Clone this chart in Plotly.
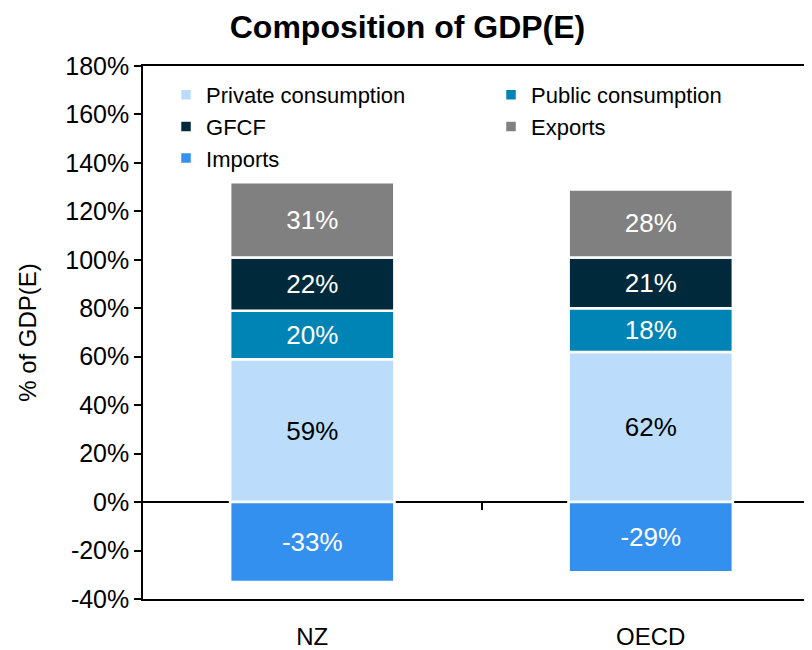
import plotly.graph_objects as go

categories = ["NZ", "OECD"]
series_names = ["Private consumption", "Public consumption", "GFCF", "Exports", "Imports"]
private_consumption = [59, 62]
public_consumption = [20, 18]
gfcf = [22, 21]
exports = [31, 28]
imports = [-33, -29]
series_values = [private_consumption, public_consumption, gfcf, exports, imports]
colors = ["#BBDDFB", "#0084B5", "#002A3C", "#808080", "#3390EE"]
label_colors = ["black", "white", "white", "white", "white"]
y_ticks = list(range(-40, 181, 20))
y_range = [-40, 180]

FONT = "Liberation Sans, Arial, sans-serif"

fig = go.Figure()
for name, vals, col, lc in zip(series_names, series_values, colors, label_colors):
    fig.add_trace(go.Bar(
        x=categories, y=vals, name=name,
        marker=dict(color=col, line=dict(color="white", width=2.5)),
        text=[f"{v}%" for v in vals], texttemplate="%{text}",
        textposition="inside", insidetextanchor="middle",
        textfont=dict(color=lc, size=26, family=FONT),
        cliponaxis=False,
    ))

zero_frac = (0 - y_range[0]) / (y_range[1] - y_range[0])

fig.update_layout(
    barmode="relative",
    bargap=0.515,
    width=812, height=642,
    margin=dict(l=135, r=0, t=58, b=51),
    paper_bgcolor="white", plot_bgcolor="white",
    font=dict(family=FONT, size=24, color="black"),
    title=dict(text="<b>Composition of GDP(E)</b>", x=0.492, xanchor="center",
               y=0.970, yanchor="middle", font=dict(size=32, family=FONT)),
    uniformtext=dict(mode=False),
    showlegend=True,
    legend=dict(orientation="h", x=0.034, y=0.985, xanchor="left", yanchor="top",
                entrywidth=280, entrywidthmode="pixels", traceorder="normal",
                font=dict(size=22, family=FONT), bgcolor="rgba(0,0,0,0)",
                itemwidth=30, tracegroupgap=0),
    xaxis=dict(range=[-0.5, 1.5], showline=True, linecolor="black", linewidth=1.5,
               mirror=True, ticks="", showgrid=False, tickfont=dict(size=24),
               ticklabelstandoff=15, automargin=False),
    xaxis2=dict(matches="x", overlaying="x", anchor="free", position=zero_frac,
                showline=False, showgrid=False, showticklabels=False,
                tickmode="array", tickvals=[0.5], ticks="outside", ticklen=7,
                tickwidth=1.5, tickcolor="black", zeroline=False, automargin=False),
    yaxis=dict(range=y_range, tickvals=y_ticks, ticktext=[f"{v}%" for v in y_ticks],
               showline=True, linecolor="black", linewidth=1.5, ticks="outside",
               ticklen=7, tickwidth=1.5, tickcolor="black", showgrid=False,
               zeroline=True, zerolinecolor="black", zerolinewidth=1.5,
               title=dict(text="% of GDP(E)", font=dict(size=24), standoff=22),
               tickfont=dict(size=25), automargin=False),
)
fig.add_trace(go.Scatter(x=categories, y=[None, None], xaxis="x2", showlegend=False,
                         hoverinfo="skip"))

fig.write_html("out.html")
